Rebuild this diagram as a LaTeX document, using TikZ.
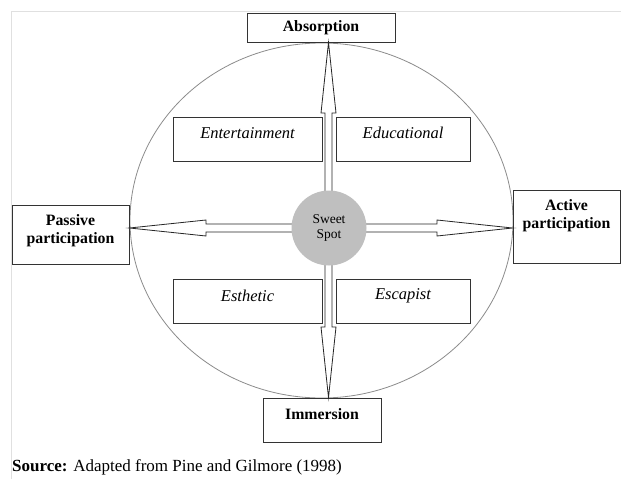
\documentclass[tikz,border=0pt]{standalone}
\usepackage{fontspec}
\setmainfont{Liberation Serif}
\usetikzlibrary{calc}
\begin{document}
\begin{tikzpicture}[x=1pt,y=-1pt,
  box/.style={draw=black!80, line width=0.95pt, fill=white, inner sep=0pt},
  pole/.style={font=\fontsize{15.8}{18}\selectfont\bfseries, align=center, inner sep=0pt},
  quad/.style={font=\fontsize{16.5}{19}\selectfont\itshape, inner sep=0pt},
  shaft/.style={draw=black!85, line width=0.8pt, fill=white, line join=miter},
  spotstyle/.style={circle, fill=black!25, minimum size=75pt, inner sep=0pt,
    font=\fontsize{13.5}{15.5}\selectfont, align=center}]
\useasboundingbox (0,0) rectangle (621,479);
\fill[white] (0,0) rectangle (621,479);
% page frame
\draw[black!12, line width=0.8pt] (11,479) -- (11,11) -- (621,11);

% experience realm ellipse
\draw[black!45, line width=0.8pt] (321.5,220.5) ellipse [x radius=191.5, y radius=177.5];

% quadrant boxes
\node[box, minimum width=149pt, minimum height=44pt] (ent) at (247.5,139) {};
\node[box, minimum width=134pt, minimum height=44pt] (edu) at (403,139) {};
\node[box, minimum width=149pt, minimum height=44pt] (est) at (247.5,301) {};
\node[box, minimum width=134pt, minimum height=44pt] (esc) at (403,301) {};
\node[quad] (entl) at (247.5,133) {Entertainment};
\node[quad] (edul) at (403,133) {Educational};
\node[quad] (estl) at (247.5,296) {Esthetic};
\node[quad] (escl) at (403,296) {Escapist};

% axis end boxes
\node[box, minimum width=148pt, minimum height=29pt] (abs) at (321,27.5) {};
\node[box, minimum width=117pt, minimum height=59pt] (pas) at (70.5,234.5) {};
\node[box, minimum width=107pt, minimum height=73pt] (act) at (566.5,226.5) {};
\node[box, minimum width=118pt, minimum height=44pt] (imm) at (322,420) {};
\node[pole] (absl) at (321,28) {Absorption};
\node[pole] (pasl) at (70.5,231) {Passive\\participation};
\node[pole] (actl) at (566.5,216) {Active\\participation};
\node[pole] (imml) at (322,414) {Immersion};

% hub and hollow arrows
\coordinate (hub) at (328.5,228);
\draw[shaft] ($(hub)+(-3.5,0)$) -- (325,113) -- (321,113) -- (abs.south -| hub)
  -- (336,113) -- (332,113) -- ($(hub)+(3.5,0)$) -- cycle;
\draw[shaft] ($(hub)+(-3.5,0)$) -- (325,327) -- (321,327) -- (imm.north -| hub)
  -- (336,327) -- (332,327) -- ($(hub)+(3.5,0)$) -- cycle;
\draw[shaft] ($(hub)+(0,-4)$) -- (206,224) -- (206,220) -- (pas.east |- hub)
  -- (206,236) -- (206,232) -- ($(hub)+(0,4)$) -- cycle;
\draw[shaft] ($(hub)+(0,-4)$) -- (437,224) -- (437,220) -- (act.west |- hub)
  -- (437,236) -- (437,232) -- ($(hub)+(0,4)$) -- cycle;

\node[spotstyle] (spot) at (329,228) {Sweet\\Spot};

% source line
\node[anchor=west, inner sep=0pt, font=\fontsize{17}{20}\selectfont] (src) at (12,467)
  {\textbf{Source:} Adapted from Pine and Gilmore (1998)};
\end{tikzpicture}
\end{document}
